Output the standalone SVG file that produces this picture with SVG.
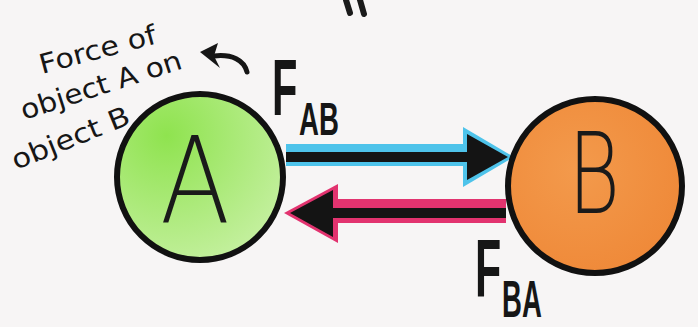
<svg xmlns="http://www.w3.org/2000/svg" width="698" height="327" viewBox="0 0 698 327">
<defs>
<style>
.hand{font-family:"DejaVu Sans","Liberation Sans",sans-serif;font-size:27px;fill:#161616;}
.big{font-family:"Liberation Sans",Arial,sans-serif;font-weight:bold;fill:#161616;}
.node-letter{font-family:"DejaVu Sans","Liberation Sans",sans-serif;font-weight:200;fill:#1a1a1a;}
</style>
<radialGradient id="gA" cx="0.3" cy="0.25" r="0.9">
<stop offset="0" stop-color="#8fe34f"/>
<stop offset="1" stop-color="#c9f1a6"/>
</radialGradient>
<radialGradient id="gB" cx="0.4" cy="0.4" r="0.8">
<stop offset="0" stop-color="#f39a4c"/>
<stop offset="1" stop-color="#ee8534"/>
</radialGradient>
</defs>
<rect width="698" height="327" fill="#f7f5f5"/>
<g id="top-marks" stroke="#1a1a1a" stroke-width="6" stroke-linecap="round">
<line x1="346" y1="0" x2="350" y2="13"/>
<line x1="360" y1="0" x2="364" y2="14"/>
</g>
<g id="note">
<text class="hand" transform="translate(42,74) rotate(-15)" textLength="120" lengthAdjust="spacingAndGlyphs">Force of</text>
<text class="hand" transform="translate(24,120) rotate(-18)" textLength="168" lengthAdjust="spacingAndGlyphs">object A on</text>
<text class="hand" transform="translate(16,170) rotate(-22)" textLength="125" lengthAdjust="spacingAndGlyphs">object B</text>
<path d="M247,72 C244,60 232,54 214,56" fill="none" stroke="#161616" stroke-width="5" stroke-linecap="round"/>
<path d="M200,52 L218,43 L214,56 L220,68 Z" fill="#161616"/>
</g>
<g id="connectors">
<g id="F_AB-arrow">
<rect x="286" y="144" width="186" height="22" fill="#4ec3ea"/>
<polygon points="463,127 514,157 463,187" fill="#4ec3ea"/>
<rect x="286" y="152" width="184" height="10" fill="#141414"/>
<polygon points="467,134 508,157 467,180" fill="#141414"/>
</g>
<g id="F_BA-arrow">
<rect x="326" y="199" width="180" height="24" fill="#e2336f"/>
<polygon points="284,213 338,184 338,243" fill="#e2336f"/>
<rect x="328" y="208" width="178" height="10" fill="#141414"/>
<polygon points="290,213 333,190 333,237" fill="#141414"/>
</g>
</g>
<g id="nodeA">
<circle cx="200" cy="177" r="83" fill="url(#gA)" stroke="#111" stroke-width="6"/>
<text class="node-letter" x="160" y="222" font-size="120" textLength="70" lengthAdjust="spacingAndGlyphs">A</text>
</g>
<g id="nodeB">
<circle cx="595" cy="186" r="87" fill="url(#gB)" stroke="#111" stroke-width="6"/>
<text class="node-letter" x="568" y="213" font-size="112" textLength="52" lengthAdjust="spacingAndGlyphs">B</text>
</g>
<g id="label-FAB">
<text class="big" font-size="80" transform="translate(272,115) scale(0.52,1)">F</text>
<text class="big" font-size="46" transform="translate(299,135) scale(0.6,1)">AB</text>
</g>
<g id="label-FBA">
<text class="big" font-size="81" transform="translate(475,297) scale(0.53,1)">F</text>
<text class="big" font-size="51" transform="translate(502,317) scale(0.54,1)">BA</text>
</g>
</svg>
